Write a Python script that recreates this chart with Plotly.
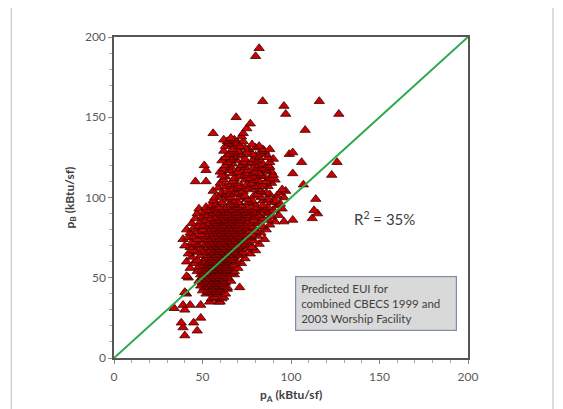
import plotly.graph_objects as go

# p_B values (kBtu/sf), one entry per horizontal band
pb_levels = [14, 17, 19, 22, 25, 30, 31, 33, 35, 37, 38, 40, 41, 42, 43, 44, 45, 46, 47, 48,
             49, 50, 51, 52, 53, 54, 55, 56, 57, 58, 59, 60, 61, 62, 63, 64, 65, 66, 67, 68,
             69, 70, 71, 72, 73, 74, 75, 76, 77, 78, 79, 80, 81, 82, 83, 84, 85, 86, 87, 88,
             89, 90, 91, 92, 93, 94, 95, 96, 97, 98, 99, 100, 101, 102, 103, 104, 105, 106, 107, 108,
             109, 110, 111, 112, 113, 114, 115, 116, 117, 118, 119, 120, 121, 122, 123, 124, 125, 126, 127, 128,
             129, 130, 131, 132, 133, 134, 135, 136, 137, 138, 140, 142, 143, 146, 150, 152, 157, 160, 188, 193]

# p_A values (kBtu/sf) of the points found in each band
pa_by_level = [
    [40], [47], [39], [38, 45], [49], [40], [34], [39, 43, 49], [54, 59, 60], [55, 58, 61],
    [57, 62], [41, 52, 56, 59, 63], [40, 54, 58], [50, 53, 57, 60], [55, 58, 61, 64],
    [51, 56, 60, 64, 71], [49, 53, 57, 59, 62], [52, 55, 58, 61], [50, 54, 57, 60, 63],
    [48, 53, 56, 59, 62, 66],
    [52, 55, 58, 61], [42, 50, 54, 57, 60, 64], [41, 53, 56, 59, 62], [49, 55, 58, 61, 68],
    [51, 54, 57, 60, 63, 66], [47, 53, 56, 59, 62, 68], [50, 55, 58, 61, 64],
    [43, 52, 57, 60, 63, 70], [48, 54, 56, 59, 62, 65], [51, 55, 58, 61, 64, 67],
    [45, 53, 57, 60, 63, 72], [41, 50, 54, 56, 59, 62, 65, 69], [47, 55, 58, 61, 64, 67],
    [52, 56, 60, 63, 66, 74], [44, 54, 58, 62, 65, 68], [49, 53, 57, 61, 64, 67, 71],
    [42, 55, 59, 63, 66, 70, 77], [47, 52, 56, 60, 62, 65, 69, 73], [45, 54, 58, 61, 64, 68, 80],
    [50, 57, 60, 63, 67, 71, 75],
    [43, 53, 56, 59, 62, 66, 70, 78], [40, 48, 55, 58, 61, 65, 68, 72],
    [46, 52, 57, 60, 64, 67, 74, 82], [44, 54, 59, 63, 66, 70, 76], [50, 56, 61, 65, 69, 73, 79],
    [39, 47, 53, 58, 62, 67, 71, 85], [42, 55, 60, 64, 68, 72, 77],
    [45, 51, 57, 62, 66, 70, 75, 81], [49, 54, 59, 63, 67, 73, 78], [43, 56, 61, 65, 69, 74, 83],
    [47, 53, 58, 62, 66, 71, 76, 80], [41, 50, 55, 60, 64, 68, 72, 86],
    [45, 57, 61, 65, 70, 75, 79], [48, 53, 59, 63, 67, 73, 77, 84], [51, 56, 62, 66, 69, 74, 88],
    [44, 54, 58, 64, 68, 71, 78, 81], [49, 57, 61, 65, 70, 76, 82, 91, 96],
    [52, 59, 63, 67, 72, 79, 87, 101], [46, 55, 60, 66, 69, 74, 84, 112],
    [50, 58, 62, 68, 71, 77, 80, 89],
    [53, 61, 64, 70, 75, 82, 93], [47, 56, 60, 66, 72, 78, 86, 115], [51, 58, 63, 69, 74, 80, 88],
    [54, 61, 65, 71, 76, 83, 90, 113], [48, 57, 62, 67, 73, 79, 85, 95],
    [52, 59, 64, 70, 75, 81, 87], [55, 66, 72, 84, 92], [58, 68, 79, 94],
    [61, 70, 76, 89], [56, 67, 78, 84, 91], [64, 75, 87, 114],
    [57, 66, 71, 83, 96], [60, 74, 79, 92], [63, 68, 81, 88],
    [61, 70, 86, 94], [56, 64, 73, 83, 97], [67, 76, 82, 95],
    [59, 70, 79], [63, 72, 81, 87], [66, 75, 84, 107],
    [60, 69, 78, 89], [46, 52, 67, 82, 86], [62, 74, 79, 91],
    [68, 77, 88], [63, 71, 80, 85], [61, 74, 83, 90, 123],
    [67, 76, 82, 101], [60, 70, 79, 89], [52, 65, 75, 86],
    [62, 71, 81, 85], [66, 74, 79, 88], [51, 63, 72, 82, 87],
    [67, 75, 84], [64, 73, 78, 88, 106, 126], [61, 69, 81],
    [66, 74, 79, 90], [63, 68, 82, 87], [70, 80], [65, 72, 78, 86, 99],
    [68, 75, 83, 101],
    [62, 70, 85], [67, 76, 84, 88], [74, 80], [63, 71, 82], [67, 78],
    [65, 70], [64, 73], [62, 68], [66], [72], [56, 73], [108], [75], [77],
    [69], [97, 127], [96], [84, 116], [80], [82],
]

pa = [x for xs in pa_by_level for x in xs]
pb = [y for y, xs in zip(pb_levels, pa_by_level) for _ in xs]

# 1:1 reference line
line_x = [0, 200]
line_y = [0, 200]

tick_vals = [0, 50, 100, 150, 200]
tick_text = ["0", "50", "100", "150", "200"]

FONT = "Lato, 'Open Sans', sans-serif"

fig = go.Figure()
fig.add_trace(go.Scatter(
    x=pa, y=pb, mode="markers",
    marker=dict(symbol="triangle-up", size=9, color="#cc0000",
                line=dict(color="#3a0000", width=0.8)),
    hoverinfo="x+y", showlegend=False))
fig.add_trace(go.Scatter(
    x=line_x, y=line_y, mode="lines",
    line=dict(color="#2aa84a", width=2), showlegend=False))

axis_common = dict(
    range=[0, 200], tickvals=tick_vals, ticktext=tick_text,
    showgrid=False, zeroline=False, showline=True, mirror=True,
    linecolor="#555555", linewidth=1.5, automargin=False,
    ticks="outside", ticklen=4, tickcolor="#888888", tickwidth=1,
    minor=dict(dtick=10, ticks="outside", ticklen=3, tickcolor="#aaaaaa"),
    tickfont=dict(family=FONT, size=12, color="#5a5a5a"),
)

fig.update_layout(
    width=547, height=401,
    margin=dict(l=106, r=87, t=29, b=51),
    paper_bgcolor="white", plot_bgcolor="white",
    font=dict(family=FONT),
    xaxis=dict(**axis_common, ticklabelstandoff=3),
    yaxis=dict(**axis_common),
    shapes=[dict(type="rect", xref="paper", yref="paper",
                 x0=-0.29, x1=1.24, y0=-0.2, y1=1.094,
                 line=dict(color="#c8c8c8", width=1.2), layer="below")],
    annotations=[
        dict(x=0.5, y=-0.118, xref="paper", yref="paper", showarrow=False,
             yanchor="middle", text="<b>p<sub>A</sub> (kBtu/sf)</b>",
             font=dict(family=FONT, size=12, color="#404040")),
        dict(x=-0.124, y=0.5, xref="paper", yref="paper", showarrow=False,
             xanchor="center", textangle=-90, text="<b>p<sub>B</sub> (kBtu/sf)</b>",
             font=dict(family=FONT, size=12, color="#404040")),
        dict(x=153, y=87, xref="x", yref="y", showarrow=False,
             text="R<sup>2</sup> = 35%",
             font=dict(family=FONT, size=15, color="#404040")),
        dict(x=148, y=34, xref="x", yref="y", showarrow=False,
             text="Predicted EUI for<br>combined CBECS 1999 and<br>2003 Worship Facility",
             align="left", bgcolor="#d9d9d9", bordercolor="#7f8ea8", borderwidth=1.2,
             borderpad=5, width=150,
             font=dict(family=FONT, size=11.5, color="#404040")),
    ],
)

fig.write_html("out.html")
